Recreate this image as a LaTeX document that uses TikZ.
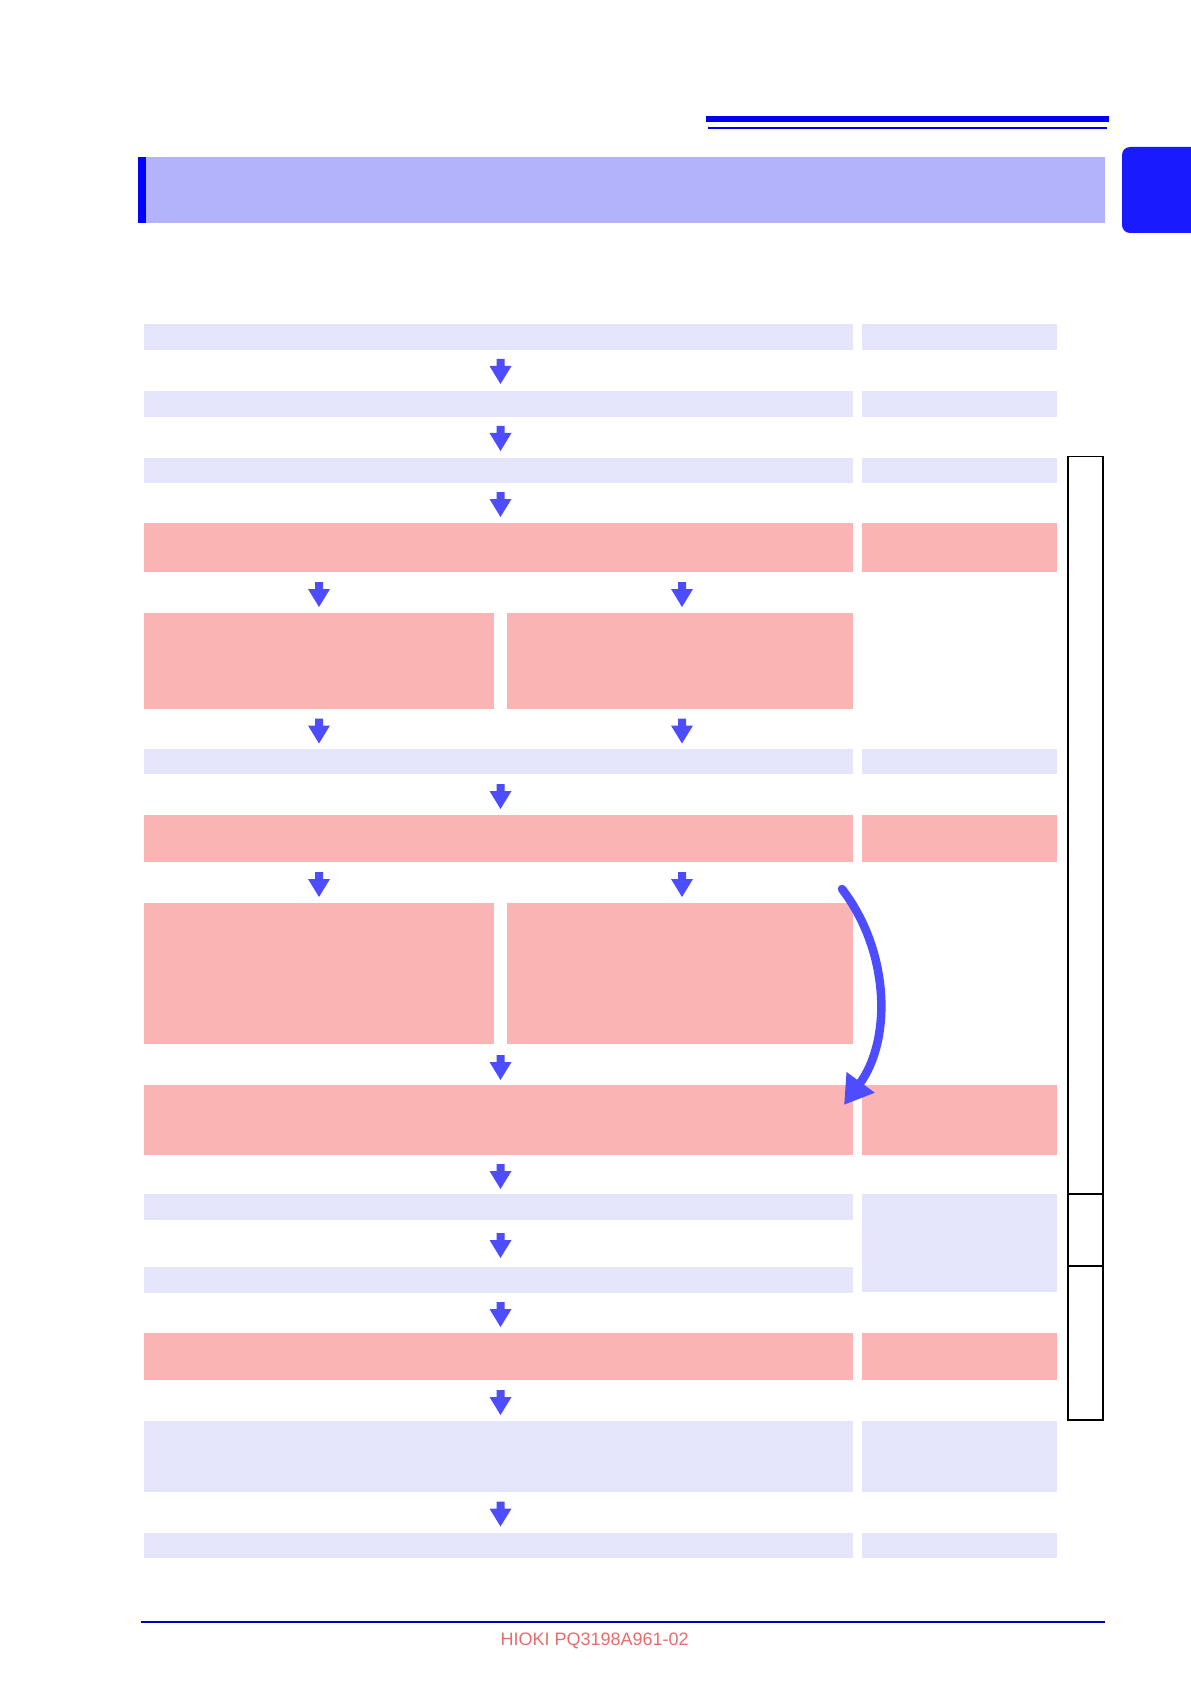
\documentclass[tikz,border=0pt]{standalone}
\usepackage{fontspec}
\setmainfont{Liberation Sans}
\usetikzlibrary{arrows.meta}
\definecolor{lav}{RGB}{228,228,251}
\definecolor{pinkbox}{RGB}{251,180,180}
\definecolor{bandblue}{RGB}{179,179,251}
\definecolor{pureblue}{RGB}{0,0,240}
\definecolor{tabblue}{RGB}{26,26,255}
\definecolor{arrblue}{RGB}{77,77,255}
\definecolor{footblue}{RGB}{0,0,192}
\definecolor{foottext}{RGB}{232,108,108}
\tikzset{
  lavbox/.style={fill=lav, draw=none, inner sep=0pt, outer sep=0pt},
  pinkbx/.style={fill=pinkbox, draw=none, inner sep=0pt, outer sep=0pt},
  framebox/.style={draw=black, line width=0.75pt, fill=none, inner sep=0pt, outer sep=0pt},
  downarr/.pic={\fill[arrblue] (-4,0) -- (4,0) -- (4,7) -- (11,7) -- (0,25) -- (-11,7) -- (-4,7) -- cycle;}
}
\newcommand\placebox[6]{\node[#1, minimum width={0.5pt*(#5-#3)}, minimum height={0.5pt*(#6-#4)}] (#2) at ({(#3+#5)/2},{(#4+#6)/2}) {};}
\begin{document}
\begin{tikzpicture}[x=0.5pt,y=-0.5pt]
\useasboundingbox (0,0) rectangle (1190,1684);
% top rules
\fill[pureblue] (706,116) rectangle (1109,121.7);
\fill[pureblue] (708,126.7) rectangle (1107,129);
% header band
\fill[bandblue] (146,156.7) rectangle (1105,222.7);
\fill[blue] (138,156.7) rectangle (146,222.7);
% tab
\fill[tabblue] (1195,147) [rounded corners=4pt] -- (1122,147) -- (1122,233) [sharp corners] -- (1195,233) -- cycle;
% main boxes
\placebox{lavbox}{r1}{144}{324}{853}{350}
\placebox{lavbox}{r1s}{862}{324}{1057}{350}
\placebox{lavbox}{r2}{144}{391}{853}{417}
\placebox{lavbox}{r2s}{862}{391}{1057}{417}
\placebox{lavbox}{r3}{144}{457.5}{853}{483}
\placebox{lavbox}{r3s}{862}{457.5}{1057}{483}
\placebox{pinkbx}{r4}{144}{523}{853}{572}
\placebox{pinkbx}{r4s}{862}{523}{1057}{572}
\placebox{pinkbx}{r5l}{144}{613}{494}{709}
\placebox{pinkbx}{r5r}{507}{613}{853}{709}
\placebox{lavbox}{r6}{144}{748.6}{853}{774}
\placebox{lavbox}{r6s}{862}{748.6}{1057}{774}
\placebox{pinkbx}{r7}{144}{815}{853}{862}
\placebox{pinkbx}{r7s}{862}{815}{1057}{862}
\placebox{pinkbx}{r8l}{144}{903}{494}{1044}
\placebox{pinkbx}{r8r}{507}{903}{853}{1044}
\placebox{pinkbx}{r9}{144}{1085}{853}{1155}
\placebox{pinkbx}{r9s}{862}{1085}{1057}{1155}
\placebox{lavbox}{r10}{144}{1194}{853}{1220}
\placebox{lavbox}{r10s}{862}{1194}{1057}{1292}
\placebox{lavbox}{r11}{144}{1267}{853}{1293}
\placebox{pinkbx}{r12}{144}{1333}{853}{1380}
\placebox{pinkbx}{r12s}{862}{1333}{1057}{1380}
\placebox{lavbox}{r13}{144}{1421}{853}{1492}
\placebox{lavbox}{r13s}{862}{1421}{1057}{1492}
\placebox{lavbox}{r14}{144}{1533}{853}{1558}
\placebox{lavbox}{r14s}{862}{1533}{1057}{1558}
% right-side frames
\placebox{framebox}{f1}{1068}{456.5}{1103}{1194}
\placebox{framebox}{f2}{1068}{1194}{1103}{1266}
\placebox{framebox}{f3}{1068}{1266}{1103}{1420}
% block arrows
\pic at (500.5,359) {downarr};
\pic at (500.5,426) {downarr};
\pic at (500.5,492) {downarr};
\pic at (319,582) {downarr};
\pic at (682,582) {downarr};
\pic at (319,718.5) {downarr};
\pic at (682,718.5) {downarr};
\pic at (500.5,784) {downarr};
\pic at (319,872) {downarr};
\pic at (682,872) {downarr};
\pic at (500.5,1055) {downarr};
\pic at (500.5,1164) {downarr};
\pic at (500.5,1233) {downarr};
\pic at (500.5,1302) {downarr};
\pic at (500.5,1390) {downarr};
\pic at (500.5,1501.5) {downarr};
% curved arrow
\coordinate (cs) at (842,889);
\draw[arrblue, line width=4.25pt, line cap=round, -{Triangle[length=14pt,width=16.5pt]}]
  (cs) arc[start angle=-37.4, end angle=36.3, radius=180];
% footer
\fill[footblue] (140.7,1621) rectangle (1105,1623);
\node[text=foottext, font=\fontsize{9pt}{10pt}\selectfont, inner sep=0pt, anchor=base] (ft) at (594.7,1645.7) {HIOKI PQ3198A961-02};
\end{tikzpicture}
\end{document}
